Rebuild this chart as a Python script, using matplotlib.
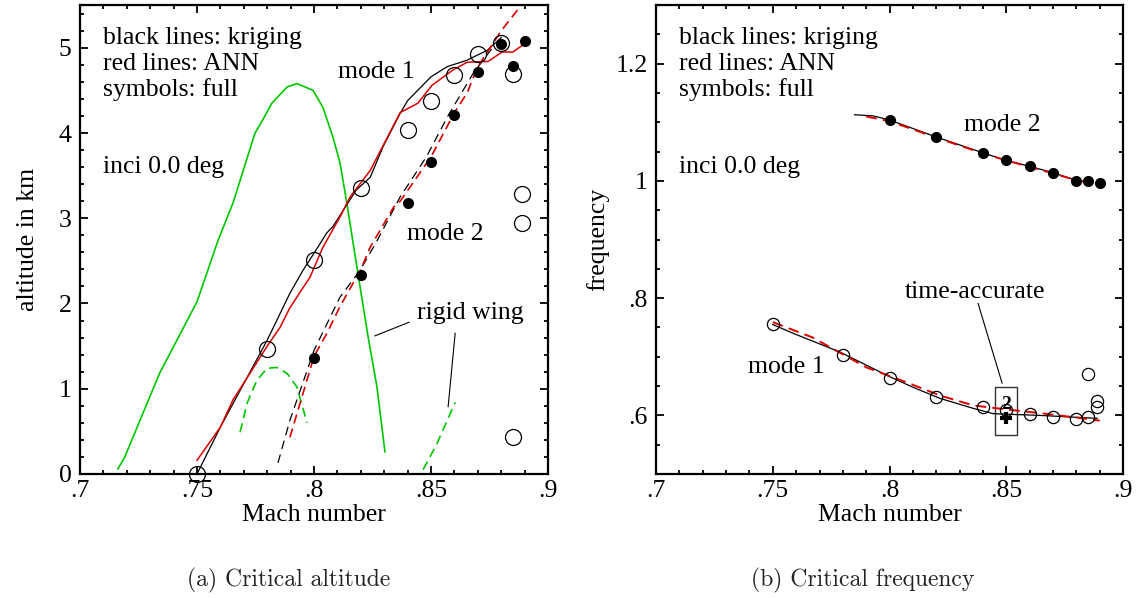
import matplotlib
matplotlib.use("Agg")
import matplotlib.pyplot as plt
from matplotlib.patches import Rectangle
from matplotlib.ticker import MultipleLocator, FuncFormatter

plt.rcParams["font.family"] = ["Liberation Serif", "DejaVu Serif"]
FS = 18.5

# ---- (a) critical altitude ----
# full solution, mode 1 (open circles) and mode 2 (filled dots)
m1_mach = [.75, .78, .80, .82, .84, .85, .86, .87, .88, .885, .889, .889, .885]
m1_alt = [0.0, 1.47, 2.51, 3.35, 4.03, 4.38, 4.68, 4.93, 5.06, 4.69, 3.28, 2.95, 0.43]
m2_mach = [.80, .82, .84, .85, .86, .87, .88, .885, .89]
m2_alt = [1.36, 2.34, 3.18, 3.66, 4.21, 4.71, 5.05, 4.79, 5.08]

# kriging, mode 1
krig1_mach = [.75, .76, .78, .7897, .7953, .80, .8055, .808, .818, .824, .8295, .8368,
              .84, .85, .857, .865, .874, .88]
krig1_alt = [0.0, 0.55, 1.57, 2.12, 2.39, 2.59, 2.83, 2.90, 3.33, 3.48, 3.84, 4.23,
             4.38, 4.66, 4.78, 4.85, 4.97, 5.12]
# ANN, mode 1
ann1_mach = [.75, .76, .7654, .7726, .78, .7855, .7897, .7983, .8038, .811, .8154, .824,
             .8368, .8444, .8504, .8594, .8654, .8744, .8803, .885, .89]
ann1_alt = [0.16, 0.55, 0.87, 1.18, 1.50, 1.72, 1.95, 2.31, 2.66, 3.01, 3.25, 3.56,
            4.24, 4.35, 4.56, 4.74, 4.83, 4.84, 4.95, 4.95, 5.05]
# kriging, mode 2
krig2_mach = [.7846, .7897, .80, .811, .8197, .827, .8368, .848, .857, .868, .8765]
krig2_alt = [0.13, 0.63, 1.45, 2.07, 2.39, 2.74, 3.25, 3.72, 4.19, 4.70, 5.01]
# ANN, mode 2
ann2_mach = [.7897, .80, .8055, .811, .82, .824, .834, .8368, .85, .86, .8654, .87, .88, .89]
ann2_alt = [0.43, 1.38, 1.65, 1.96, 2.40, 2.66, 3.13, 3.20, 3.72, 4.24, 4.47, 4.78, 5.20, 5.55]

# rigid wing
rig_mach = [.7162, .719, .734, .75, .759, .7654, .7748, .778, .782, .7885, .7927, .7996,
            .8038, .8081, .8111, .814, .8167, .8197, .8231, .8269, .8303]
rig_alt = [0.06, 0.19, 1.18, 2.02, 2.74, 3.18, 4.00, 4.15, 4.35, 4.54, 4.58, 4.50,
           4.30, 3.95, 3.65, 3.18, 2.71, 2.19, 1.61, 1.02, 0.26]
rig2_mach = [.7684, .7714, .7756, .78, .784, .7885, .7927, .797]
rig2_alt = [0.49, 0.83, 1.10, 1.24, 1.25, 1.18, 1.02, 0.60]
rig3_mach = [.8466, .8526, .8603]
rig3_alt = [0.05, 0.36, 0.84]

# ---- (b) critical frequency ----
f1_mach = [.75, .78, .80, .82, .84, .85, .86, .87, .88, .885, .885, .889, .889]
f1_freq = [.756, .703, .663, .631, .615, .609, .603, .597, .594, .597, .670, .624, .615]
f2_mach = [.80, .82, .84, .85, .86, .87, .88, .885, .89]
f2_freq = [1.104, 1.075, 1.048, 1.035, 1.026, 1.014, 1.000, 1.000, .997]

fk1_mach = [.75, .7587, .7788, .799, .81, .8216, .8358, .8443, .85, .864, .8786, .8889]
fk1_freq = [.755, .740, .708, .668, .648, .629, .612, .603, .602, .600, .597, .595]
fa1_mach = [.75, .767, .79, .8075, .8216, .8358, .8503, .864, .8786, .89]
fa1_freq = [.759, .733, .682, .656, .634, .617, .610, .604, .597, .591]

fk2_mach = [.785, .793, .80, .82, .84, .85, .86, .87, .88, .887]
fk2_freq = [1.113, 1.111, 1.104, 1.075, 1.048, 1.035, 1.025, 1.014, 1.001, .997]
fa2_mach = [.790, .80, .82, .84, .85, .86, .87, .88, .887]
fa2_freq = [1.110, 1.102, 1.074, 1.047, 1.035, 1.024, 1.013, 1.001, .996]

# time-accurate result
ta_mach = [.85]
ta_freq = [.595]

RED = "#dd0000"
GREEN = "#00c800"
DASH_K = (0, (7, 4.5))
DASH_R = (0, (5.5, 3.2))


def short_num(v, pos):
    s = "%g" % v
    if s.startswith("0."):
        s = s[1:]
    return s


def style_axes(ax, ymajor, yminor):
    ax.set_xlim(.7, .9)
    ax.xaxis.set_major_locator(MultipleLocator(.05))
    ax.xaxis.set_minor_locator(MultipleLocator(.01))
    ax.yaxis.set_major_locator(MultipleLocator(ymajor))
    ax.yaxis.set_minor_locator(MultipleLocator(yminor))
    ax.xaxis.set_major_formatter(FuncFormatter(short_num))
    ax.yaxis.set_major_formatter(FuncFormatter(short_num))
    ax.tick_params(which="both", direction="in", top=True, right=True,
                   labelsize=FS, width=1.3)
    ax.tick_params(which="major", length=6)
    ax.tick_params(axis="x", which="major", pad=4)
    ax.tick_params(axis="y", which="major", pad=6)
    ax.tick_params(which="minor", length=3)
    for sp in ax.spines.values():
        sp.set_linewidth(1.6)
    ax.set_xlabel("Mach number", fontsize=FS, va="center")
    ax.xaxis.set_label_coords(0.5, -0.088)
    ax.text(0.049, 0.93, "black lines: kriging", transform=ax.transAxes,
            fontsize=FS, va="center")
    ax.text(0.049, 0.874, "red lines: ANN", transform=ax.transAxes,
            fontsize=FS, va="center")
    ax.text(0.049, 0.819, "symbols: full", transform=ax.transAxes,
            fontsize=FS, va="center")
    ax.text(0.049, 0.655, "inci 0.0 deg", transform=ax.transAxes,
            fontsize=FS, va="center")


fig = plt.figure(figsize=(11.39, 5.98), dpi=100)
ax1 = fig.add_axes([0.0702, 0.2074, 0.411, 0.784])
ax2 = fig.add_axes([0.576, 0.2074, 0.41, 0.784])

# left panel
ax1.plot(rig_mach, rig_alt, color=GREEN, lw=1.2)
ax1.plot(rig2_mach, rig2_alt, color=GREEN, lw=1.2, ls=DASH_R)
ax1.plot(rig3_mach, rig3_alt, color=GREEN, lw=1.2, ls=DASH_R)
ax1.plot(krig1_mach, krig1_alt, color="black", lw=0.9)
ax1.plot(ann1_mach, ann1_alt, color=RED, lw=1.1)
ax1.plot(krig2_mach, krig2_alt, color="black", lw=0.9, ls=DASH_K)
ax1.plot(ann2_mach, ann2_alt, color=RED, lw=1.2, ls=DASH_R)
ax1.plot(m1_mach, m1_alt, "o", mfc="none", mec="black", mew=0.9, ms=11.5, clip_on=False)
ax1.plot(m2_mach, m2_alt, "o", color="black", ms=7)
ax1.set_ylim(0, 5.5)
style_axes(ax1, 1, 0.2)
ax1.set_ylabel("altitude in km", fontsize=FS, va="center", ha="center")
ax1.yaxis.set_label_coords(-0.111, 0.5)
ax1.text(.8103, 4.71, "mode 1", fontsize=FS, va="center")
ax1.text(.8397, 2.82, "mode 2", fontsize=FS, va="center")
ax1.text(.844, 1.89, "rigid wing", fontsize=FS, va="center")
ax1.plot([.8406, .826], [1.78, 1.62], color="black", lw=0.8)
ax1.plot([.8603, .8573], [1.65, 0.79], color="black", lw=0.8)

# right panel
ax2.plot(fk1_mach, fk1_freq, color="black", lw=0.9)
ax2.plot(fa1_mach, fa1_freq, color=RED, lw=1.4, ls=DASH_R)
ax2.plot(fk2_mach, fk2_freq, color="black", lw=0.9)
ax2.plot(fa2_mach, fa2_freq, color=RED, lw=1.4, ls=DASH_R)
ax2.plot(f1_mach, f1_freq, "o", mfc="none", mec="black", mew=0.9, ms=8.8)
ax2.plot(f2_mach, f2_freq, "o", color="black", ms=7)
ax2.plot(ta_mach, ta_freq, "+", color="black", ms=9, mew=3)
ax2.text(ta_mach[0], .619, "2", fontsize=14, fontweight="bold", ha="center", va="center")
ax2.add_patch(Rectangle((.8452, .566), .0094, .082, fill=False, ec="#333333", lw=1))
ax2.plot([.8379, .8482], [.791, .655], color="black", lw=0.8)
ax2.set_ylim(.5, 1.3)
style_axes(ax2, .2, .05)
ax2.set_ylabel("frequency", fontsize=FS, va="center", ha="center")
ax2.yaxis.set_label_coords(-0.124, 0.5)
ax2.text(.8366, .810, "time-accurate", fontsize=FS, ha="center", va="center")
ax2.text(.7394, .682, "mode 1", fontsize=FS, va="center")
ax2.text(.8319, 1.096, "mode 2", fontsize=FS, va="center")

# sub-captions
fig.text(0.253, 0.030, "(a) Critical altitude", family="cmr10", fontsize=17,
         ha="center", va="center", color="#222222")
fig.text(0.757, 0.030, "(b) Critical frequency", family="cmr10", fontsize=17,
         ha="center", va="center", color="#222222")

fig.savefig("out.png", dpi=100)
